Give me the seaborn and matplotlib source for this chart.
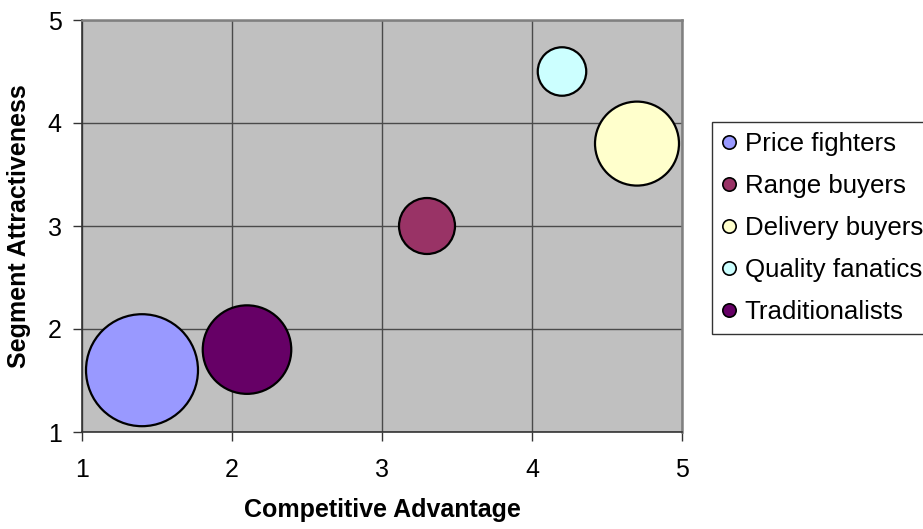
import matplotlib
matplotlib.use("Agg")
import matplotlib.pyplot as plt
from matplotlib.lines import Line2D
import pandas as pd
import seaborn as sns

# Segment data: position on the matrix and relative segment size (bubble area)
segments = ["Price fighters", "Range buyers", "Delivery buyers", "Quality fanatics", "Traditionalists"]
competitive_advantage = [1.4, 3.3, 4.7, 4.2, 2.1]
segment_attractiveness = [1.6, 3.0, 3.8, 4.5, 1.8]
segment_size = [16, 4, 9, 3, 10]
colors = ["#9999FF", "#993366", "#FFFFCC", "#CCFFFF", "#660066"]

ticks = [1, 2, 3, 4, 5]

df = pd.DataFrame({
    "segment": segments,
    "advantage": competitive_advantage,
    "attractiveness": segment_attractiveness,
    "size": segment_size,
})
palette = dict(zip(segments, colors))

sns.set_style("white")
plt.rcParams["font.family"] = ["Liberation Sans", "DejaVu Sans"]
plt.rcParams["text.color"] = "black"
plt.rcParams["axes.labelcolor"] = "black"

fig = plt.figure(figsize=(9.23, 5.29), dpi=100)
ax = fig.add_axes([82 / 923, 1 - 432 / 529, 600 / 923, 412 / 529])
ax.set_facecolor("#C0C0C0")

sns.scatterplot(
    data=df, x="advantage", y="attractiveness",
    hue="segment", palette=palette, hue_order=segments,
    size="size", sizes=(0, 6500), size_norm=(0, 16),
    edgecolor="black", linewidth=1.6, alpha=1,
    legend=False, ax=ax, zorder=3,
)

ax.set_xlim(1, 5)
ax.set_ylim(1, 5)
ax.set_xticks(ticks)
ax.set_yticks(ticks)
ax.set_xticklabels([str(t) for t in ticks])
ax.set_yticklabels([str(t) for t in ticks])
ax.grid(True, color="#4a4a4a", linewidth=1.0)
ax.set_axisbelow(True)

for side in ("left", "bottom"):
    ax.spines[side].set_color("#333333")
    ax.spines[side].set_linewidth(1.2)
for side in ("top", "right"):
    ax.spines[side].set_visible(True)
    ax.spines[side].set_color("#808080")
    ax.spines[side].set_linewidth(1.8)

ax.tick_params(axis="both", direction="out", length=6.5, width=1.0,
               color="#333333", labelsize=18, labelcolor="black")
ax.tick_params(axis="x", pad=12, bottom=True)
ax.tick_params(axis="y", pad=8, left=True)

ax.set_xlabel("Competitive Advantage", fontsize=18, fontweight="bold",
              labelpad=12, color="black")
ax.set_ylabel("Segment Attractiveness", fontsize=18, fontweight="bold",
              labelpad=12, color="black")

handles = [
    Line2D([0], [0], marker="o", linestyle="none", markersize=9.6,
           markerfacecolor=c, markeredgecolor="black", markeredgewidth=1.2)
    for c in colors
]
leg = fig.legend(
    handles, segments, loc="upper left",
    bbox_to_anchor=(712 / 923, 1 - 122 / 529), bbox_transform=fig.transFigure,
    fontsize=18.6, frameon=True, fancybox=False, borderpad=0.38,
    handlelength=0.58, handletextpad=0.3, labelspacing=0.7, borderaxespad=0,
    labelcolor="black",
)
leg.get_frame().set_edgecolor("black")
leg.get_frame().set_linewidth(1.0)

fig.savefig("out.png", dpi=100)
